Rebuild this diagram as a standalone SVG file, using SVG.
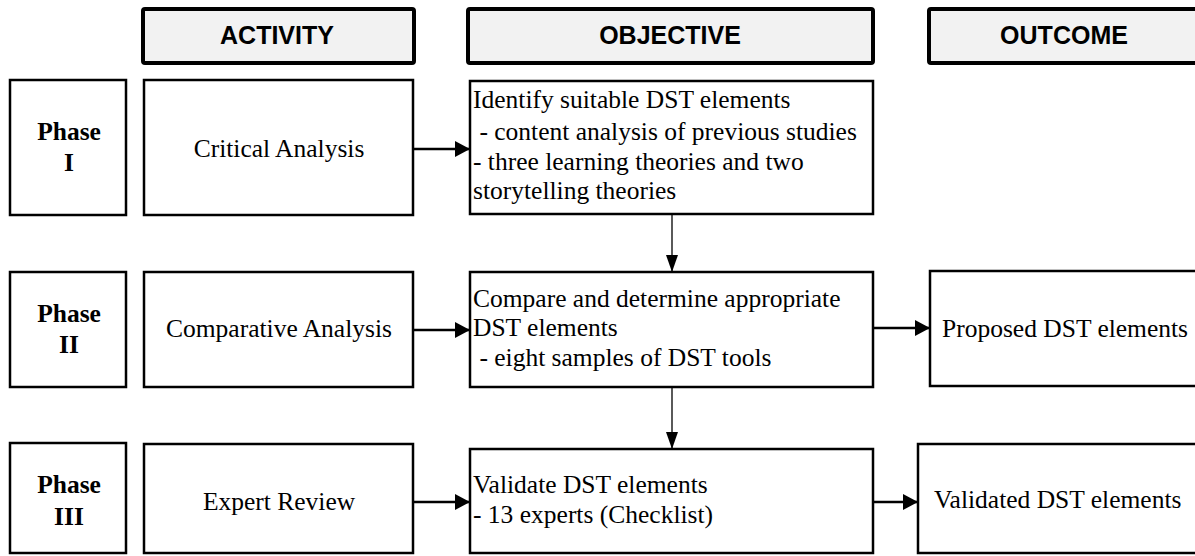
<svg xmlns="http://www.w3.org/2000/svg" width="1195" height="556" viewBox="0 0 1195 556">
<style>
.hdr{fill:#f2f2f2;stroke:#000;stroke-width:4}
.box{fill:#fff;stroke:#000;stroke-width:2.5}
.ht{font-family:"Liberation Sans",Arial,sans-serif;font-weight:bold;font-size:25px;text-anchor:middle;fill:#000}
.t{font-family:"Liberation Serif","Times New Roman",serif;font-size:25.5px;fill:#000}
.c{text-anchor:middle}
.b{font-weight:bold}
.thick{stroke:#000;stroke-width:2.5;fill:none}
.thin{stroke:#000;stroke-width:1.3;fill:none}
</style>
<defs>
<marker id="ah" markerUnits="userSpaceOnUse" markerWidth="16" markerHeight="16" refX="15" refY="8" orient="auto">
<path d="M0,0 L15,8 L0,16 Z" fill="#000"/>
</marker>
<marker id="av" markerUnits="userSpaceOnUse" markerWidth="17" markerHeight="12" refX="17" refY="6" orient="auto">
<path d="M0,0 L17,6 L0,12 Z" fill="#000"/>
</marker>
</defs>
<rect width="1195" height="556" fill="#fff"/>
<g id="h-activity"><rect class="hdr" x="143" y="9" width="271" height="54" rx="2"/><text class="ht" x="277" y="44">ACTIVITY</text></g>
<g id="h-objective"><rect class="hdr" x="468" y="9" width="405" height="54" rx="2"/><text class="ht" x="670" y="44">OBJECTIVE</text></g>
<g id="h-outcome"><rect class="hdr" x="929" y="9" width="270" height="54" rx="2"/><text class="ht" x="1064" y="44">OUTCOME</text></g>

<g id="phase1"><rect class="box" x="10" y="80" width="116" height="135"/><text class="t b c" x="69" y="140">Phase</text><text class="t b c" x="69" y="171">I</text></g>
<g id="phase2"><rect class="box" x="10" y="272" width="116" height="115"/><text class="t b c" x="69" y="322">Phase</text><text class="t b c" x="69" y="353">II</text></g>
<g id="phase3"><rect class="box" x="10" y="443" width="116" height="110"/><text class="t b c" x="69" y="493">Phase</text><text class="t b c" x="69" y="525">III</text></g>

<g id="act1"><rect class="box" x="144" y="80" width="269" height="135"/><text class="t c" x="279" y="157">Critical Analysis</text></g>
<g id="act2"><rect class="box" x="144" y="272" width="269" height="115"/><text class="t c" x="279" y="337">Comparative Analysis</text></g>
<g id="act3"><rect class="box" x="144" y="444" width="269" height="109"/><text class="t c" x="279" y="510">Expert Review</text></g>

<g id="obj1"><rect class="box" x="470" y="81" width="403" height="133"/>
<text class="t" x="473" y="108">Identify suitable DST elements</text>
<text class="t" x="473" y="139.5" xml:space="preserve"> - content analysis of previous studies</text>
<text class="t" x="473" y="169.5">- three learning theories and two</text>
<text class="t" x="473" y="199">storytelling theories</text></g>
<g id="obj2"><rect class="box" x="470" y="272" width="403" height="115"/>
<text class="t" x="473" y="307">Compare and determine appropriate</text>
<text class="t" x="473" y="336">DST elements</text>
<text class="t" x="473" y="366" xml:space="preserve"> - eight samples of DST tools</text></g>
<g id="obj3"><rect class="box" x="470" y="449" width="403" height="104"/>
<text class="t" x="473" y="493">Validate DST elements</text>
<text class="t" x="473" y="523">- 13 experts (Checklist)</text></g>

<g id="out2"><rect class="box" x="930" y="271" width="270" height="115"/><text class="t" x="942" y="337">Proposed DST elements</text></g>
<g id="out3"><rect class="box" x="918" y="444" width="282" height="109"/><text class="t" x="934" y="508">Validated DST elements</text></g>

<g id="connectors">
<line class="thick" x1="413" y1="149" x2="470" y2="149" marker-end="url(#ah)"/>
<line class="thick" x1="413" y1="330" x2="470" y2="330" marker-end="url(#ah)"/>
<line class="thick" x1="873" y1="328" x2="930" y2="328" marker-end="url(#ah)"/>
<line class="thick" x1="413" y1="502" x2="470" y2="502" marker-end="url(#ah)"/>
<line class="thick" x1="873" y1="502" x2="918" y2="502" marker-end="url(#ah)"/>
<line class="thin" x1="672" y1="214" x2="672" y2="272" marker-end="url(#av)"/>
<line class="thin" x1="672" y1="387" x2="672" y2="449" marker-end="url(#av)"/>
</g>
</svg>
